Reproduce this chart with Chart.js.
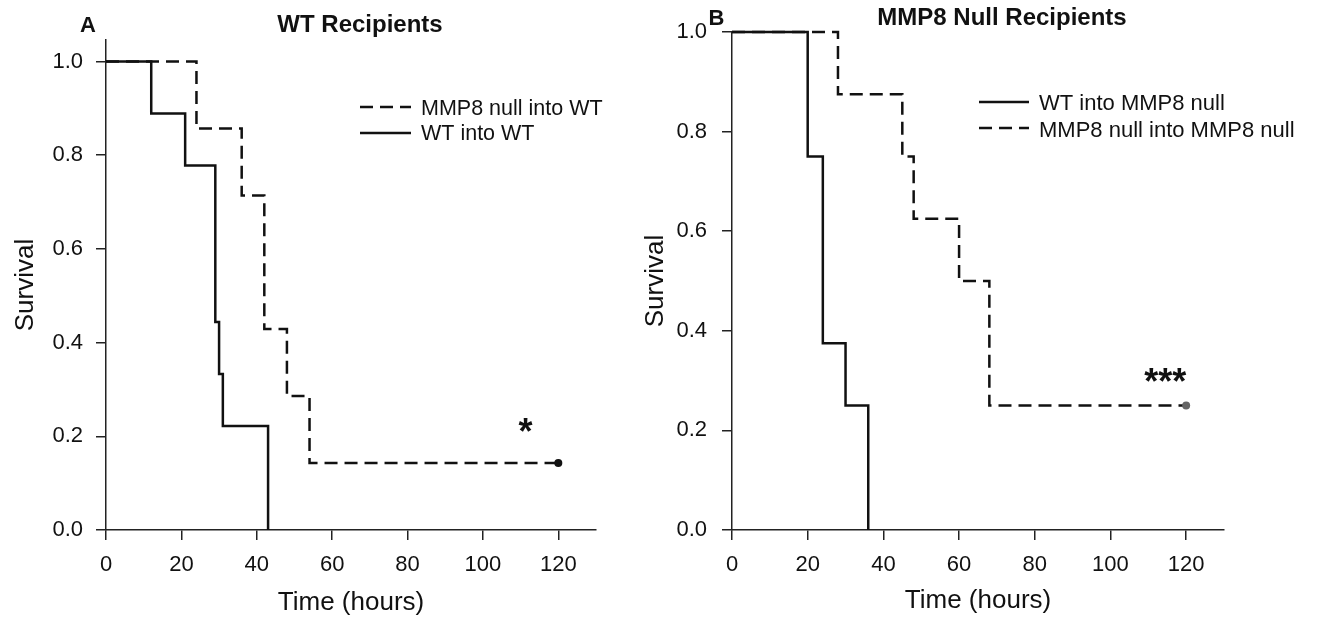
<!DOCTYPE html>
<html>
<head>
<meta charset="utf-8">
<title>Survival</title>
<script src="https://cdn.jsdelivr.net/npm/chart.js@4"></script>
<style>
    body { margin: 0; background: #fff; }
    #wrap { position: relative; width: 1319px; height: 622px; overflow: hidden; }
    canvas { position: absolute; top: 0; }
    #chartA { left: 0; }
    #chartB { left: 630px; }
</style>
</head>
<body>
<div id="wrap">
    <canvas id="chartA" width="650" height="622"></canvas>
    <canvas id="chartB" width="689" height="622"></canvas>
</div>
<script>
// panel A: WT recipients
const wtIntoWtTimes = [0, 12, 21, 29, 30, 31, 43];
const wtIntoWtSurv = [1, 0.889, 0.778, 0.444, 0.333, 0.222, 0];
const nullIntoWtTimes = [0, 24, 36, 42, 48, 54, 120];
const nullIntoWtSurv = [1, 0.857, 0.714, 0.429, 0.286, 0.143, 0.143];

// panel B: MMP8 null recipients
const wtIntoNullTimes = [0, 20, 24, 30, 36];
const wtIntoNullSurv = [1, 0.75, 0.375, 0.25, 0];
const nullIntoNullTimes = [0, 28, 45, 48, 60, 68, 120];
const nullIntoNullSurv = [1, 0.875, 0.75, 0.625, 0.5, 0.25, 0.25];

const timeTicks = [0, 20, 40, 60, 80, 100, 120];
const survivalTicks = [0, 0.2, 0.4, 0.6, 0.8, 1.0];

const FONT = "'Liberation Sans', Arial, sans-serif";
Chart.defaults.font.family = FONT;
Chart.defaults.color = "#111";

function toPoints(times, surv) {
    return times.map((t, i) => ({ x: t, y: surv[i] }));
}

const panelText = {
    id: "panelText",
    afterDraw(chart, args, opts) {
        const ctx = chart.ctx;
        ctx.save();
        ctx.fillStyle = "#111";
        ctx.textBaseline = "alphabetic";
        opts.texts.forEach(t => {
            ctx.font = t.font;
            ctx.textAlign = t.align || "center";
            ctx.fillText(t.text, t.x, t.y);
        });

        // legend drawn from the datasets
        const lg = opts.legend;
        lg.items.forEach((dsIndex, i) => {
            const ds = chart.data.datasets[dsIndex];
            const ly = lg.lineY[i];
            ctx.strokeStyle = "#111";
            ctx.lineWidth = 2.5;
            ctx.setLineDash(ds.borderDash || []);
            ctx.beginPath();
            ctx.moveTo(lg.x1, ly);
            ctx.lineTo(lg.x2, ly);
            ctx.stroke();
            ctx.setLineDash([]);
            ctx.font = lg.fontSize + "px " + FONT;
            ctx.textAlign = "left";
            ctx.fillText(ds.label, lg.textX, lg.textY[i]);
        });

        // significance stars at data position
        const s = opts.star;
        ctx.font = "bold 36px " + FONT;
        ctx.letterSpacing = "0px";
        ctx.textAlign = "center";
        ctx.textBaseline = "middle";
        ctx.fillText(s.text, chart.scales.x.getPixelForValue(s.x), chart.scales.y.getPixelForValue(s.y));
        ctx.restore();
    }
};

function makeChart(id, cfg) {
    const last = cfg.dashed.times.length - 1;
    new Chart(document.getElementById(id), {
        type: "line",
        data: {
            datasets: [
                {
                    label: cfg.solid.label,
                    data: toPoints(cfg.solid.times, cfg.solid.surv),
                    borderColor: "#111",
                    borderWidth: 2.5,
                    stepped: true,
                    pointRadius: 0,
                    clip: false,
                    order: 0
                },
                {
                    label: cfg.dashed.label,
                    data: toPoints(cfg.dashed.times, cfg.dashed.surv),
                    borderColor: "#111",
                    borderWidth: 2.5,
                    borderDash: [13, 7],
                    stepped: true,
                    pointRadius: c => (c.dataIndex === last ? 4 : 0),
                    pointBackgroundColor: cfg.dotColor,
                    pointBorderWidth: 0,
                    clip: false,
                    order: 1
                }
            ]
        },
        options: {
            responsive: false,
            animation: false,
            events: [],
            layout: { padding: cfg.padding },
            plugins: {
                legend: { display: false },
                tooltip: { enabled: false },
                panelText: cfg.text
            },
            scales: {
                x: {
                    type: "linear",
                    min: 0,
                    max: 130,
                    border: { display: true, color: "#222", width: 1.5 },
                    grid: { drawOnChartArea: false, drawTicks: true, tickLength: 10, color: "#222", lineWidth: 1.5 },
                    afterBuildTicks: s => { s.ticks = timeTicks.map(v => ({ value: v })); },
                    ticks: { font: { size: 22 }, padding: 12, maxRotation: 0 },
                    title: { display: true, text: "Time (hours)", font: { size: 26 }, padding: { top: 0, bottom: cfg.xTitlePad } },
                    afterFit: s => { s.height = 92; }
                },
                y: {
                    type: "linear",
                    min: 0,
                    max: cfg.yMax,
                    border: { display: true, color: "#222", width: 1.5 },
                    grid: { drawOnChartArea: false, drawTicks: true, tickLength: 10, color: "#222", lineWidth: 1.5 },
                    afterBuildTicks: s => { s.ticks = survivalTicks.map(v => ({ value: v })); },
                    ticks: { font: { size: 22 }, padding: cfg.yTickPad, callback: v => v.toFixed(1) },
                    title: { display: true, text: "Survival", font: { size: 26 }, padding: { top: cfg.yTitlePad, bottom: 0 } },
                    afterFit: s => { s.width = cfg.yWidth; }
                }
            }
        },
        plugins: [panelText]
    });
}

makeChart("chartA", {
    solid: { label: "WT into WT", times: wtIntoWtTimes, surv: wtIntoWtSurv },
    dashed: { label: "MMP8 null into WT", times: nullIntoWtTimes, surv: nullIntoWtSurv },
    dotColor: "#111",
    padding: { left: 0, right: 54, top: 40, bottom: 0 },
    yMax: 1.046,
    yWidth: 106,
    yTickPad: 13,
    yTitlePad: 10,
    xTitlePad: 4,
    text: {
        texts: [
            { text: "A", x: 88, y: 32, font: "bold 22px " + FONT },
            { text: "WT Recipients", x: 360, y: 32, font: "bold 24px " + FONT }
        ],
        legend: { items: [1, 0], x1: 360, x2: 411, textX: 421, lineY: [107, 133], textY: [115, 140], fontSize: 21.5 },
        star: { text: "*", x: 111.3, y: 0.204 }
    }
});

makeChart("chartB", {
    solid: { label: "WT into MMP8 null", times: wtIntoNullTimes, surv: wtIntoNullSurv },
    dashed: { label: "MMP8 null into MMP8 null", times: nullIntoNullTimes, surv: nullIntoNullSurv },
    dotColor: "#666",
    padding: { left: 0, right: 95, top: 32, bottom: 0 },
    yMax: 1.0,
    yWidth: 102,
    yTickPad: 15,
    yTitlePad: 10,
    xTitlePad: 6,
    text: {
        texts: [
            { text: "B", x: 86.5, y: 25, font: "bold 22px " + FONT },
            { text: "MMP8 Null Recipients", x: 372, y: 25, font: "bold 24px " + FONT }
        ],
        legend: { items: [0, 1], x1: 349, x2: 399, textX: 409, lineY: [102, 128], textY: [110, 137], fontSize: 22 },
        star: { text: "***", x: 114.5, y: 0.294 }
    }
});
</script>
</body>
</html>
